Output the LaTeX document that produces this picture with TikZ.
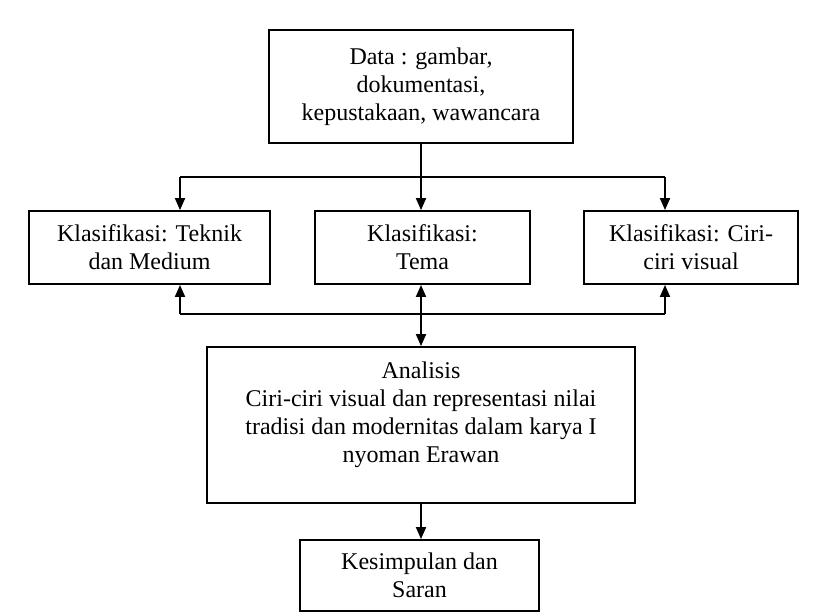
\documentclass[tikz,border=0pt]{standalone}
\usepackage{fontspec}
\setmainfont{Liberation Serif}
\usetikzlibrary{arrows.meta}
\begin{document}
\begin{tikzpicture}[x=0.75pt,y=-0.75pt,
  box/.style={draw,line width=1.4pt,align=center,inner sep=0pt,font=\fontsize{18}{21}\selectfont},
  conn/.style={line width=1.4pt},
  arr/.style={conn,-{Triangle[length=9pt,width=7.5pt]}},
  darr/.style={conn,{Triangle[length=9pt,width=7.5pt]}-{Triangle[length=9pt,width=7.5pt]}}]
\useasboundingbox (0,0) rectangle (815,612);
\node[box,minimum width=228pt,minimum height=84.75pt] (top) at (421,86.5) {Data : gambar,\\dokumentasi,\\kepustakaan, wawancara};
\node[box,minimum width=180.75pt,minimum height=54.75pt] (kl) at (149.5,247.5) {Klasifikasi: Teknik\\dan Medium};
\node[box,minimum width=161.25pt,minimum height=54.75pt] (km) at (422.5,247.5) {Klasifikasi:\\Tema};
\node[box,minimum width=160.5pt,minimum height=54.75pt] (kr) at (691,247.5) {Klasifikasi: Ciri-\\ciri visual};
\node[box,minimum width=321pt,minimum height=117pt] (an) at (421,425) {};
\node[font=\fontsize{18}{21}\selectfont,align=center,anchor=north] (antext) at (421,357) {Analisis\\Ciri-ciri visual dan representasi nilai\\tradisi dan modernitas dalam karya I\\nyoman Erawan};
\node[box,minimum width=179.25pt,minimum height=53.25pt] (ks) at (419.5,575.5) {Kesimpulan dan\\Saran};
\coordinate (j1) at (421,177);
\coordinate (jl) at (180,177);
\coordinate (jr) at (665,177);
\coordinate (bl) at (180,314);
\coordinate (br) at (665,314);
\draw[conn] (top.south) -- (j1);
\draw[conn] (jl) -- (jr);
\draw[arr] (jl) -- (jl |- kl.north);
\draw[arr] (j1) -- (km.north -| j1);
\draw[arr] (jr) -- (jr |- kr.north);
\draw[conn] (bl) -- (br);
\draw[arr] (bl) -- (bl |- kl.south);
\draw[arr] (br) -- (br |- kr.south);
\draw[darr] (km.south -| an.north) -- (an.north);
\draw[arr] (an.south) -- (ks.north -| an.south);
\end{tikzpicture}
\end{document}
